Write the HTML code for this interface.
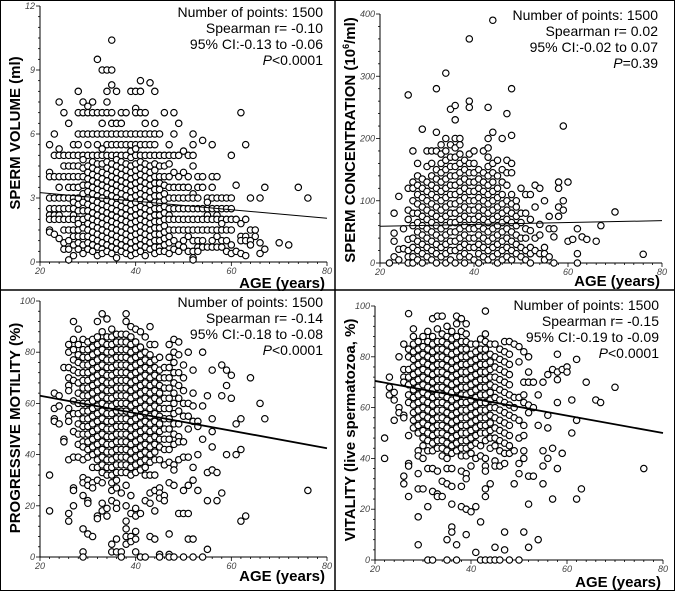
<!DOCTYPE html>
<html><head><meta charset="utf-8"><style>
html,body{margin:0;padding:0;background:#fff;}
svg{display:block;font-family:"Liberation Sans",Arial,sans-serif;}
.tk{font-size:9px;font-style:italic;fill:#444;}
.st{font-size:14px;fill:#000;}
.tt{font-size:15px;font-weight:bold;fill:#000;}
</style></head><body>
<svg id="chart" width="675" height="591" viewBox="0 0 675 591" xmlns="http://www.w3.org/2000/svg">
<rect x="0.5" y="0.5" width="674" height="590" fill="#fff" stroke="#000" stroke-width="1"/>
<line x1="335" y1="0" x2="335" y2="591" stroke="#000" stroke-width="1.5"/>
<line x1="0" y1="290" x2="675" y2="290" stroke="#000" stroke-width="1.5"/>
</svg>
<script>
// ---- Panel 1: sperm volume ----
const volAges=[22,23,24,25,26,27,28,29,30,31,32,33,34,35,36,37,38,39,40,41,42,43,44,45,46,47,48,49,50,51,52,53,54,55,56,57,58,59,60,61,62,63,64,65,66,67,70,72,74,76];
const volValues=[
[5.5,4.2,4,3,2.5,2.2,2,1.5,1.4],[6,5,4,3,2.5,2.2,2,1.3],[7.5,5.3,5,4,3.5,3,2.5,2.2,2,1.1],[7,5,4.5,4,3,2.5,2,1.5,0.6,0.9],
[6.5,5,4.5,4,3.5,3,2.5,2,1.5,1,0.6,0.1],[5.5,5,4.5,4,3.5,3,2.8,2.5,2.2,2,1.5,1.2,0.8,0.3],
[8,7,6,5.5,5,4.5,4,3.5,3,2.7,2.4,2,1.8,1.5,1.2,0.9,0.6],[7.5,7,6,5,4.8,4.4,4,3.6,3.2,2.8,2.4,2,1.6,1.2,0.8,0.4],
[7.3,7,6,5.5,5,4.5,4.2,3.9,3.6,3.3,3,2.7,2.4,2.1,1.8,1.5,1.2,0.9,0.6],[7.5,7,6,5,4.7,4.4,4.1,3.8,3.5,3.2,2.9,2.6,2.3,2,1.7,1.4,1.1,0.8,0.5],
[9.5,7,6,5.5,5,4.6,4.3,4,3.7,3.4,3.1,2.8,2.5,2.2,1.9,1.6,1.3,1,0.7,0.3],[9,7,6.5,6,5.3,5,4.6,4.2,3.9,3.6,3.3,3,2.7,2.4,2.1,1.8,1.5,1.2,0.9,0.6,0.4],
[9,8,7.5,7,6,5.5,5,4.7,4.4,4.1,3.8,3.5,3.2,2.9,2.6,2.3,2,1.7,1.4,1.1,0.8,0.5],[10.4,9,8.3,7,6.5,6,5.5,5,4.6,4.3,4,3.7,3.4,3.1,2.8,2.5,2.2,1.9,1.6,1.3,1,0.7,0.4],
[8,6.5,6,5.5,5,4.8,4.5,4.2,3.9,3.6,3.3,3,2.7,2.4,2.1,1.8,1.5,1.2,0.9,0.6,0.2],[7,6.5,6,5.5,5,4.7,4.4,4.1,3.8,3.5,3.2,2.9,2.6,2.3,2,1.7,1.4,1.1,0.8,0.5],
[7,6,5.5,5,4.6,4.3,4,3.7,3.4,3.1,2.8,2.5,2.2,1.9,1.6,1.3,1,0.7,0.4],[8,6,5.5,5.2,4.9,4.5,4.2,3.9,3.6,3.3,3,2.7,2.4,2.1,1.8,1.5,1.2,0.9,0.6,0.3],
[8,7.2,7,6,5.5,5.3,5,4.6,4.3,4,3.7,3.4,3.1,2.8,2.5,2.2,1.9,1.6,1.3,1,0.7,0.4],[8.5,8,7,6,5.5,5,4.7,4.4,4.1,3.8,3.5,3.2,2.9,2.6,2.3,2,1.7,1.4,1.1,0.8,0.5],
[7,6.5,6,5.5,5,4.6,4.3,4,3.7,3.4,3.1,2.8,2.5,2.2,1.9,1.6,1.3,1,0.7,0.3],[8.4,6,5.5,5,4.5,4.2,3.9,3.6,3.3,3,2.7,2.4,2.1,1.8,1.5,1.2,0.9,0.6],
[8,6.5,6,5.5,5,4.6,4.3,4,3.7,3.4,3.1,2.8,2.5,2.2,1.9,1.6,1.3,1,0.7,0.4],[6,5,4.5,4,3.7,3.4,3.1,2.8,2.5,2.2,1.9,1.6,1.3,1,0.7,0.5],
[7,5,4.5,4,3.6,3.2,2.9,2.6,2.3,2,1.7,1.4,1.1,0.8,0.5],[5.5,5,4.6,4,3.5,3,2.5,2.2,2,1.5,1.2,0.9,0.4],
[7,6,5,4.2,3.5,3,2.5,2,1.5,1,0.6],[6.5,5,4,3.5,3,2.5,2,1.5,0.8,0.5],[5.2,4.2,3.5,3,2.5,2,1.5,1,0.7],[5,4,3.5,3,2.5,2,1.5,1.2,0.5],
[6,5.5,5,4.5,3.2,3,2.5,2,1.5,1,0.5,0.2,0.1],[4,3.5,3,2.5,2,1.5,1,0.7,0.5],[5.7,4,3.5,2.5,2,1.5,1,0.7],[3,2.8,2.5,2.2,2,1.5,0.7],
[5.5,4,3.5,3,2.5,2,1.5,1,0.7],[4,3,2.5,2.2,2,1.5,1.2,0.7],[3,2.5,2,1.8,1.5,1,0.7],[3,2.5,2,1.5,1,0.5],[5,3,2.5,2,1.5,0.8,0.4],
[3.6,2,0.5],[7,1.8,1.2,1,0.4],[5.5,2,1.2,1,0.3],[3,1.5,1,0.8],[1.5,1.2],[3,0.9,0.4],[3.5,0.6],[0.9],[0.8],[3.5],[3]];
const volTrend=[3.25,2.05];
const volTicks=["0","3","6","9","12"];

// ---- Panel 2: concentration ----
const concAges=[22,23,24,25,26,27,28,29,30,31,32,33,34,35,36,37,38,39,40,41,42,43,44,45,46,47,48,49,50,51,52,53,54,55,56,57,58,59,60,61,62,63,64,66,67,70,76];
const concValues=[
[0],[80,48,35,10],[107,22,5],[55,23],[270,120,85,70,38,20,10,0],[180,130,120,100,80,60,40,25,10,0],
[160,140,125,110,95,80,65,50,35,20,5],[215,135,120,105,90,75,60,45,30,15,0],[180,155,130,115,100,85,70,55,40,25,10],
[180,160,140,125,110,95,80,65,50,35,20,5],[280,210,180,150,135,120,105,90,75,60,45,30,15,0],[190,175,160,145,130,115,100,85,70,55,40,25,10],
[305,200,180,165,150,135,120,105,90,75,60,45,30,15,0],[247,190,170,155,140,125,110,95,80,65,50,35,20,5],
[253,230,200,185,170,155,140,125,110,95,80,65,50,35,20,0],[200,190,175,160,145,130,115,100,85,70,55,40,25,10],
[165,150,135,120,105,90,75,60,45,30,15,0],[360,260,250,175,160,145,130,115,100,85,70,55,40,25,10],
[180,160,145,130,115,100,85,70,55,40,25,5],[150,135,120,105,90,75,60,45,30,15,0],[180,145,130,115,100,85,70,55,40,25,10],
[250,200,185,170,155,140,125,110,95,80,65,50,35,20,5],[390,210,160,145,130,115,100,85,70,55,40,25,10],
[165,140,120,105,90,75,60,45,30,15,0],[200,150,130,110,95,80,65,50,35,20,5],[240,165,145,125,100,85,70,55,40,25,10],
[280,205,160,145,110,95,80,65,50,35,20,5],[100,90,75,60,45,30,15],[120,80,65,40,25,10],[110,80,55,40,20,5],[110,70,52,25,15,0],
[125,90,40,20],[120,62,45,15],[100,25,15,5],[75,55,10],[55,42,0],[130,120,90,75],[220,100,85],[130,35],[38],[55,15,0],[42],[38],[35],[60],[82],[14]];
const concTrend=[59,68];
const concTicks=["0","100","200","300","400"];

// ---- Panel 3: progressive motility ----
const motAges=[22,23,24,25,26,27,28,29,30,31,32,33,34,35,36,37,38,39,40,41,42,43,44,45,46,47,48,49,50,51,52,53,54,55,56,57,58,59,60,61,62,63,64,66,67,76];
const motValues=[
[32,18],[64,58,54,53],[63,59,52],[74,46,45],[83,80,74,70,67,65,58,55,53,38,17,14],[92,85,81,77,73,69,61,56,49,39,27,26,20],
[89,83,79,76,72,68,64,60,56,52,48,44,39],[85,81,78,75,72,69,66,63,60,57,54,51,48,45,43,38,31,29,24,11,2,0],
[84,81,78,75,72,69,66,63,60,57,54,51,48,45,42,39,30,28,22,21,9],[85,82,79,76,73,70,67,64,61,58,55,52,49,46,43,40,35,29,27,8],
[92,86,83,80,77,74,71,68,65,62,59,56,53,50,47,44,41,38,35,30,16,15],[95,88,84,81,78,75,72,69,66,63,60,57,54,51,48,45,42,39,36,33,29,21,18],
[93,86,83,80,77,74,71,68,65,62,59,56,53,50,47,44,41,38,35,32,19,16],[89,86,83,80,77,74,71,68,65,62,59,56,53,50,47,44,41,38,35,32,29,26,22,5,2],
[87,84,81,78,75,72,69,66,63,60,57,54,51,48,45,42,39,36,33,30,27,21,19,7,2],[87,84,81,78,75,72,69,66,63,60,57,54,51,48,45,42,39,36,33,25,2,0],
[95,92,87,84,81,78,75,72,69,66,63,60,57,54,51,48,45,42,39,36,33,28,20,14,11,8,5],[90,86,83,80,77,74,71,68,65,62,59,56,53,50,47,44,41,38,35,32,24,17,8,6],
[89,84,81,78,75,72,69,66,63,60,57,54,51,48,45,42,39,36,33,19,16,10,7,2],[88,82,79,76,73,70,67,64,61,58,55,52,49,46,43,40,37,34,17,0],
[86,80,77,74,71,68,65,62,59,56,53,50,47,44,41,38,35,32,22,0],[90,83,79,76,73,70,67,64,61,58,55,52,49,46,43,40,37,32,25,21,8],
[83,77,74,71,68,65,62,59,56,53,50,47,44,41,38,32,26,18,7],[78,73,70,67,64,61,58,55,52,49,46,43,38,27,25,23,1,0],
[74,70,66,62,58,54,50,46,42,36,24,22],[83,78,74,70,66,62,58,54,50,46,42,37,29,9,1,0],[85,80,76,72,68,64,60,56,52,48,44,36,34,28,0],
[84,79,72,67,62,57,52,47,45,38,17],[75,70,65,60,55,45,39,26,17,0],[80,60,55,50,39,28,17,7],[73,64,59,53,35,30,7,0],[53,51,40,26],
[80,59,46,0],[63,33,22,3],[73,54,49,43,34],[33,22],[75,63,25],[73,67,40],[71,62],[52,40],[54,42,14],[16],[70],[60],[54],[26]];
const motTrend=[63,42.5];
const motTicks=["0","20","40","60","80","100"];

// ---- Panel 4: vitality ----
const vitAges=[22,23,24,25,26,27,28,29,30,31,32,33,34,35,36,37,38,39,40,41,42,43,44,45,46,47,48,49,50,51,52,53,54,55,56,57,58,59,60,61,62,63,64,66,67,70,76];
const vitValues=[
[48,40],[72,68,65],[66,63,55],[80,60,58],[85,75,72,70,57,56,33,30],[97,83,80,75,72,69,65,62,49,38,37,25],
[91,88,85,82,79,76,73,70,67,64,61,58,55,52],[86,83,80,77,74,71,68,65,62,59,56,53,50,43,41,34,28,17,6],
[88,84,81,78,75,72,69,66,63,60,57,54,51,48,45,40,28],[90,86,83,80,77,74,71,68,65,62,59,56,53,50,47,43,36,21,0],
[95,88,85,82,79,76,73,70,67,64,61,58,55,52,49,46,43,36,27,0],[96,91,86,83,80,77,74,71,68,65,62,59,56,53,50,47,44,35,26,25],
[96,89,86,83,80,77,74,71,68,65,62,59,56,53,50,47,44,41,31,25],[92,88,85,82,79,76,73,70,67,64,61,58,55,52,49,46,43,40,36,30,8,0],
[90,87,84,81,78,75,72,69,66,63,60,57,54,51,48,45,42,36,29,22,13,11],[96,93,88,85,82,79,76,73,70,67,64,61,58,55,52,49,46,43,6,0],
[95,90,86,83,80,77,74,71,68,65,62,59,56,53,50,47,44,41,35,29,21],[93,89,86,83,80,77,74,71,68,65,62,59,56,53,50,47,44,41,34,32,20,10],
[85,81,78,75,72,69,66,63,60,57,54,51,48,45,42,37,19],[85,82,79,76,73,70,67,64,61,58,55,52,49,46,40,21,3],
[87,83,80,77,74,71,68,65,62,59,56,53,50,45,41,15,0],[98,89,86,83,80,77,74,71,68,65,62,59,56,53,50,47,40,37,35,28,25,0],
[85,81,78,75,72,69,66,63,60,57,54,51,48,44,30,0],[85,80,76,72,68,64,60,56,52,48,45,39,37,5,0],[83,79,75,71,67,63,59,55,51,47,43,37,0],
[86,82,78,74,70,66,62,58,54,50,46,42,38,11,4],[86,81,77,73,69,65,61,57,53,49,45,42,0],[85,64,60,56,43,30],[84,78,64,55,48,38,34,0],
[82,70,65,62,53,49,43,40,11],[80,74,70,61,58,33,22,5],[70,60,33],[65,53,8],[70,43,37,30],[73,57,52,40],[75,44,24],[81,74,71,62,36],
[75,42],[76,74],[63,50],[79,55,24],[28],[70],[63],[62],[68],[36]];
const vitTrend=[70.5,50];
const vitTicks=["0","20","40","60","80","100"];

const ageTicks=["20","40","60","80"];

const NS="http://www.w3.org/2000/svg";
const svg=document.getElementById('chart');
function mk(tag,attrs,parent){const e=document.createElementNS(NS,tag);for(const k in attrs)e.setAttribute(k,attrs[k]);(parent||svg).appendChild(e);return e;}

function panel(cfg){
  const g=mk('g',{});
  
  
  const xs=a=>cfg.x0+(a-20)/60*(cfg.x1-cfg.x0);
  const ys=v=>cfg.y0-(v/cfg.ymax)*(cfg.y0-cfg.y1);
  const ya=mk('line',{x1:cfg.x0,y1:cfg.y0,x2:cfg.x0,y2:cfg.y1,stroke:'#000','stroke-width':1},g);
  
  
  const xa=mk('line',{x1:cfg.x0,y1:cfg.y0,x2:cfg.x1,y2:cfg.y0,stroke:'#000','stroke-width':1},g);
  
  
  for(let i=0;i<=30;i++){const a=20+i*2;const x=xs(a);const major=i%10==0;
    mk('line',{x1:x,y1:cfg.y0,x2:x,y2:cfg.y0+(major?4:2),stroke:'#000','stroke-width':0.8},g);}
  ageTicks.forEach(t=>{const l=mk('text',{x:xs(+t),y:cfg.y0+12,'text-anchor':'middle',class:'tk'},g);l.textContent=t;
    
    });
  const n=cfg.ticks.length-1;const minorN=n*cfg.minor;
  for(let i=0;i<=minorN;i++){const v=cfg.ymax*i/minorN;const y=ys(v);const major=i%cfg.minor==0;
    mk('line',{x1:cfg.x0,y1:y,x2:cfg.x0-(major?4:2),y2:y,stroke:'#000','stroke-width':0.8},g);}
  cfg.ticks.forEach(t=>{const l=mk('text',{x:cfg.x0-5,y:ys(+t)+3,'text-anchor':'end',class:'tk'},g);l.textContent=t;
    
    });
  cfg.ages.forEach((a,i)=>{cfg.vals[i].forEach(v=>{
    const c=mk('circle',{cx:xs(a),cy:ys(v),r:3.2,fill:'#fff',stroke:'#000','stroke-width':1.15},g);
    
    
  });});
  const tl=mk('line',{x1:xs(20),y1:ys(cfg.trend[0]),x2:xs(80),y2:ys(cfg.trend[1]),stroke:'#000','stroke-width':cfg.tw},g);
  
  
  cfg.stats.forEach((s,i)=>{const t=mk('text',{x:cfg.x1-4,y:cfg.sy+i*16,'text-anchor':'end',class:'st'},g);
    t.innerHTML=s;
    
    });
  const xt=mk('text',{x:cfg.x1-2,y:cfg.xty,'text-anchor':'end',class:'tt'},g);xt.textContent='AGE (years)';
  
  
  const yt=mk('text',{x:0,y:0,'text-anchor':'middle',class:'tt',transform:`translate(${cfg.ytx},${cfg.yty}) rotate(-90)`},g);
  yt.innerHTML=cfg.ytitle;
  
  
}

panel({name:'sperm-volume-panel',x0:40,x1:327,y0:262,y1:6,ymax:12,ticks:volTicks,minor:6,ages:volAges,vals:volValues,trend:volTrend,tw:1,
  stats:['Number of points: 1500','Spearman r= -0.10','95% CI:-0.13 to -0.06','<tspan font-style="italic">P</tspan>&lt;0.0001'],sy:17,xty:288,ytx:20,yty:133,
  ytitle:'SPERM VOLUME (ml)'});
panel({name:'sperm-concentration-panel',x0:380,x1:662,y0:263,y1:14,ymax:400,ticks:concTicks,minor:5,ages:concAges,vals:concValues,trend:concTrend,tw:1,
  stats:['Number of points: 1500','Spearman r= 0.02','95% CI:-0.02 to 0.07','<tspan font-style="italic">P</tspan>=0.39'],sy:20,xty:286,ytx:355,yty:140,
  ytitle:'SPERM CONCENTRATION (10<tspan font-size="9" dy="-6">6</tspan><tspan dy="6">/ml)</tspan>'});
panel({name:'progressive-motility-panel',x0:40,x1:327,y0:557,y1:301,ymax:100,ticks:motTicks,minor:5,ages:motAges,vals:motValues,trend:motTrend,tw:1.8,
  stats:['Number of points: 1500','Spearman r= -0.14','95% CI:-0.18 to -0.08','<tspan font-style="italic">P</tspan>&lt;0.0001'],sy:307,xty:581,ytx:20,yty:428,
  ytitle:'PROGRESSIVE MOTILITY (%)'});
panel({name:'vitality-panel',x0:375,x1:663,y0:560,y1:306,ymax:100,ticks:vitTicks,minor:5,ages:vitAges,vals:vitValues,trend:vitTrend,tw:1.8,
  stats:['Number of points: 1500','Spearman r= -0.15','95% CI:-0.19 to -0.09','<tspan font-style="italic">P</tspan>&lt;0.0001'],sy:310,xty:587,ytx:355,yty:430,
  ytitle:'VITALITY (live spermatozoa, %)'});
</script>
</body></html>
